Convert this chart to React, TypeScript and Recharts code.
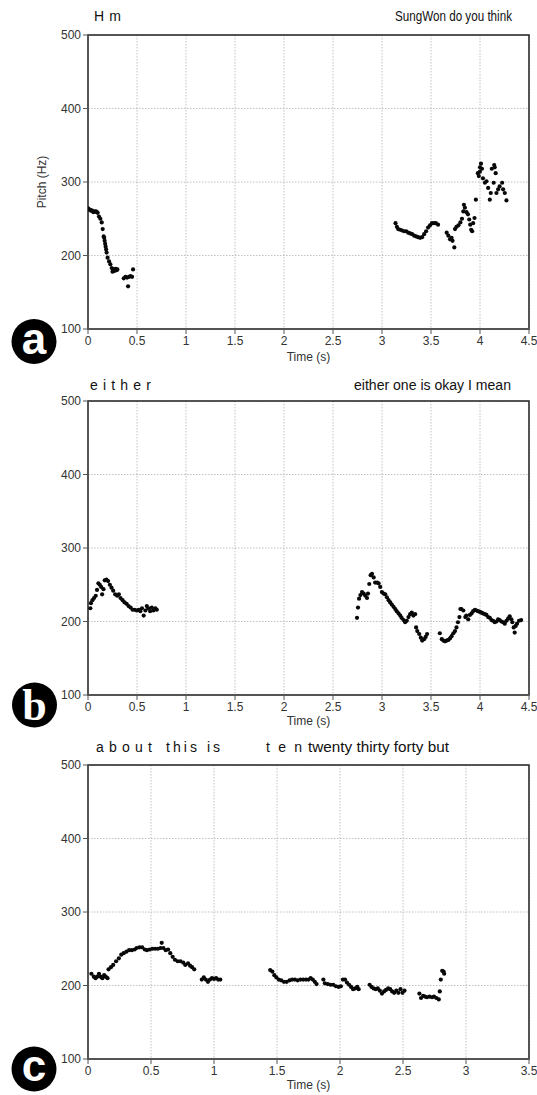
import React from 'react';
import { ScatterChart, Scatter, XAxis, YAxis, CartesianGrid, ReferenceArea } from 'recharts';

const FONT = '"Liberation Sans", Arial, Helvetica, sans-serif';

const yTicks = [100, 200, 300, 400, 500];
const xTicksAB = [0, 0.5, 1, 1.5, 2, 2.5, 3, 3.5, 4, 4.5];
const xTicksC = [0, 0.5, 1, 1.5, 2, 2.5, 3, 3.5];

const panelLetters = ['a', 'b', 'c'];
const yLabel = 'Pitch (Hz)';
const xLabel = 'Time (s)';
const wordsA = ['H m', 'SungWon do you think'];
const wordsB = ['e i t h e r', 'either one is okay I mean'];
const wordsC = ['a b o u t', 't h i s', 'i s', 't e n', 'twenty thirty forty but'];

// Panel a
const aTime = [
  0.0, 0.007, 0.024, 0.03, 0.044, 0.055, 0.065, 0.082, 0.09, 0.099, 0.112, 0.126, 0.14, 0.15, 0.16, 0.165, 0.17, 0.175, 0.18, 0.185, 0.19, 0.2, 0.215, 0.228, 0.242, 0.25, 0.256, 0.265, 0.27, 0.283, 0.293, 0.3,
  0.365, 0.382, 0.399, 0.409, 0.419, 0.433, 0.45, 0.46,
  3.138, 3.152, 3.165, 3.186, 3.206, 3.226, 3.247, 3.267, 3.287, 3.308, 3.328, 3.348, 3.369, 3.389, 3.409, 3.43, 3.45, 3.47, 3.49, 3.51, 3.531, 3.55, 3.572,
  3.66, 3.677, 3.694, 3.71, 3.72, 3.738,
  3.745, 3.76, 3.78, 3.8, 3.816, 3.83, 3.836, 3.846, 3.863, 3.877, 3.89, 3.9, 3.91, 3.92, 3.93, 3.944, 3.958,
  3.978, 3.988, 3.999, 4.0, 4.01, 4.02, 4.03, 4.05, 4.066, 4.083, 4.1, 4.11, 4.12, 4.14, 4.145, 4.15, 4.16, 4.168, 4.185, 4.2, 4.226, 4.236, 4.253, 4.27,
];
const aPitch = [
  264, 263, 262, 261, 261, 259, 260, 260, 259, 258, 253, 250, 245, 236, 226, 224, 220, 216, 212, 208, 204, 197, 192, 188, 183, 178, 181, 181, 179, 182, 180, 181,
  169, 171, 170, 158, 171, 172, 171, 181,
  244, 239, 236, 235, 234, 233, 233, 231, 230, 229, 227, 226, 225, 224, 225, 229, 233, 238, 241, 244, 244, 244, 242,
  231, 227, 222, 224, 220, 211,
  236, 239, 241, 245, 250, 260, 269, 265, 259, 256, 249, 242, 235, 233, 244, 251, 276,
  312, 308, 314, 320, 325, 318, 305, 299, 301, 292, 276, 285, 318, 299, 323, 320, 312, 285, 290, 294, 299, 290, 285, 275,
];

// Panel b
const bTime = [
  0.024, 0.03, 0.045, 0.062, 0.079, 0.092, 0.106, 0.12, 0.134, 0.144, 0.158, 0.171, 0.188, 0.205, 0.223, 0.24, 0.257, 0.277, 0.298, 0.315, 0.332, 0.353, 0.373, 0.394, 0.414, 0.435, 0.455, 0.476, 0.497, 0.517, 0.534, 0.551, 0.568, 0.586, 0.6, 0.616, 0.634, 0.651, 0.668, 0.688, 0.702,
  2.745, 2.755, 2.766, 2.78, 2.796, 2.813, 2.83, 2.847, 2.857, 2.87, 2.884, 2.898, 2.915, 2.93, 2.95, 2.965, 2.982, 2.999, 3.016, 3.033, 3.05, 3.067, 3.084, 3.1, 3.118, 3.135, 3.15, 3.169, 3.186, 3.2, 3.22, 3.236, 3.253, 3.27, 3.287, 3.304, 3.32, 3.338, 3.348, 3.36, 3.38, 3.396, 3.41, 3.43, 3.446, 3.46,
  3.59, 3.61, 3.626, 3.643, 3.66, 3.677, 3.694, 3.71, 3.728, 3.745, 3.76, 3.775, 3.79, 3.8, 3.81, 3.83, 3.85, 3.86, 3.88, 3.897, 3.914, 3.93, 3.948, 3.965, 3.98, 3.999, 4.016, 4.03, 4.05, 4.066, 4.083, 4.1, 4.117, 4.134, 4.15, 4.168, 4.185, 4.2, 4.219, 4.236, 4.253, 4.27, 4.287, 4.303, 4.32, 4.33, 4.344, 4.354, 4.364, 4.378, 4.398, 4.42,
];
const bPitch = [
  218, 225, 229, 232, 235, 243, 252, 250, 247, 237, 244, 256, 257, 255, 250, 246, 242, 237, 235, 237, 232, 229, 226, 224, 221, 219, 216, 216, 215, 216, 214, 218, 208, 215, 221, 218, 214, 219, 215, 218, 216,
  205, 219, 231, 236, 240, 238, 235, 232, 238, 251, 263, 265, 260, 253, 253, 252, 247, 240, 238, 237, 233, 229, 226, 223, 220, 217, 214, 211, 208, 205, 202, 199, 201, 206, 210, 212, 208, 210, 192, 187, 183, 178, 174, 176, 179, 183,
  184, 176, 174, 173, 174, 175, 177, 180, 184, 187, 192, 199, 206, 217, 217, 215, 206, 208, 203, 209, 211, 214, 216, 215, 214, 213, 212, 211, 210, 209, 206, 205, 202, 201, 199, 200, 203, 202, 200, 199, 197, 201, 204, 207, 203, 199, 192, 185, 194, 197, 201, 202,
];

// Panel c
const cTime = [
  0.027, 0.046, 0.06, 0.073, 0.087, 0.1, 0.114, 0.128, 0.141, 0.155,
  0.163, 0.182, 0.2, 0.223, 0.245, 0.264, 0.283, 0.305, 0.326, 0.348, 0.37, 0.386, 0.408, 0.43, 0.451, 0.468, 0.49, 0.511, 0.533, 0.555, 0.576, 0.585, 0.598, 0.617, 0.636, 0.653, 0.672, 0.69, 0.712, 0.734, 0.756, 0.772, 0.794, 0.81, 0.826, 0.843,
  0.903, 0.919, 0.935, 0.952, 0.968, 0.984, 1.0, 1.017, 1.033, 1.05,
  1.446, 1.463, 1.479, 1.495, 1.514, 1.533, 1.555, 1.577, 1.6, 1.62, 1.642, 1.664, 1.686, 1.708, 1.73, 1.75, 1.767, 1.784, 1.8, 1.814,
  1.868, 1.88, 1.903, 1.925, 1.947, 1.968, 1.99, 2.007, 2.023, 2.04, 2.055, 2.072, 2.088, 2.104, 2.12, 2.137, 2.148,
  2.235, 2.25, 2.267, 2.284, 2.3, 2.316, 2.333, 2.35, 2.365, 2.382, 2.398, 2.414, 2.43, 2.447, 2.463, 2.48, 2.496, 2.512,
  2.63, 2.643, 2.66, 2.675, 2.69, 2.71, 2.73, 2.746, 2.765, 2.784, 2.792, 2.8, 2.811, 2.822, 2.827,
];
const cPitch = [
  216, 212, 210, 212, 216, 212, 210, 214, 212, 210,
  222, 225, 228, 233, 237, 242, 244, 246, 248, 248, 249, 251, 252, 252, 249, 248, 249, 250, 250, 250, 251, 258, 251, 248, 249, 244, 239, 235, 233, 233, 231, 228, 230, 227, 225, 222,
  208, 211, 208, 205, 208, 210, 209, 210, 208, 208,
  221, 219, 214, 211, 208, 207, 205, 205, 207, 208, 208, 207, 208, 208, 208, 208, 210, 208, 205, 202,
  208, 203, 202, 201, 201, 199, 198, 199, 208, 208, 204, 201, 198, 195, 196, 198, 195,
  201, 198, 196, 195, 196, 193, 189, 192, 194, 196, 195, 192, 190, 193, 190, 195, 190, 193,
  189, 183, 186, 185, 184, 185, 184, 185, 183, 181, 192, 208, 220, 219, 216,
];

const zip = (t: number[], f: number[]) => t.map((v, i) => ({ t: v, f: f[i] }));

const Dot = (props: any) => {
  if (props.cx == null || props.cy == null) return null;
  return <circle cx={props.cx} cy={props.cy} r={2.1} fill="#080808" />;
};

function Panel({ top, data, xMax, xTicks }: { top: number; data: any[]; xMax: number; xTicks: number[] }) {
  const tickStyle = { fontSize: 12, fill: '#333', fontFamily: FONT };
  return (
    <div style={{ position: 'absolute', left: 0, top, width: 537, height: 364 }}>
      <ScatterChart width={537} height={364} margin={{ top: 35, right: 8, bottom: 0, left: 0 }}>
        <CartesianGrid stroke="#b0b0b0" strokeDasharray="1.5 1.5" strokeWidth={0.8} />
        <XAxis
          type="number"
          dataKey="t"
          domain={[0, xMax]}
          ticks={xTicks}
          interval={0}
          height={35}
          tickSize={5}
          tickMargin={2}
          tick={tickStyle}
          axisLine={{ stroke: '#555', strokeWidth: 1.5 }}
          tickLine={{ stroke: '#555' }}
          allowDataOverflow
        />
        <YAxis
          type="number"
          dataKey="f"
          domain={[100, 500]}
          ticks={yTicks}
          interval={0}
          width={88}
          tickSize={5}
          tickMargin={2}
          tick={tickStyle}
          axisLine={{ stroke: '#555', strokeWidth: 1.5 }}
          tickLine={{ stroke: '#555' }}
          allowDataOverflow
        />
        <ReferenceArea x1={0} x2={xMax} y1={100} y2={500} fill="none" stroke="#222" strokeWidth={1.5} ifOverflow="visible" />
        <Scatter data={data} isAnimationActive={false} shape={Dot} />
      </ScatterChart>
    </div>
  );
}

function Badge({ cx, cy, letter, serif }: { cx: number; cy: number; letter: string; serif?: boolean }) {
  return (
    <g>
      <circle cx={cx} cy={cy} r={22.5} fill="#000" />
      <text
        x={cx}
        y={cy + (letter === 'b' ? 15 : 12)}
        textAnchor="middle"
        fill="#fff"
        fontSize={44}
        fontWeight="bold"
        fontFamily={serif ? '"Liberation Serif", "DejaVu Serif", serif' : FONT}
      >
        {letter}
      </text>
    </g>
  );
}

export default function App() {
  const titleStyle = { fontSize: 14, fill: '#111', fontFamily: FONT };
  return (
    <div style={{ position: 'absolute', left: 0, top: 0, width: 537, height: 1095, background: '#fff' }}>
      <Panel top={0} data={zip(aTime, aPitch)} xMax={4.5} xTicks={xTicksAB} />
      <Panel top={366} data={zip(bTime, bPitch)} xMax={4.5} xTicks={xTicksAB} />
      <Panel top={730} data={zip(cTime, cPitch)} xMax={3.5} xTicks={xTicksC} />
      <svg width={537} height={1095} style={{ position: 'absolute', left: 0, top: 0, pointerEvents: 'none' }}>
        <text x={94} y={21} textLength={27} lengthAdjust="spacing" {...titleStyle}>{wordsA[0]}</text>
        <text x={395} y={21} textLength={117} lengthAdjust="spacingAndGlyphs" {...titleStyle}>{wordsA[1]}</text>
        <text x={90} y={390} textLength={61} lengthAdjust="spacing" {...titleStyle}>{wordsB[0]}</text>
        <text x={354} y={390} textLength={157} lengthAdjust="spacingAndGlyphs" {...titleStyle}>{wordsB[1]}</text>
        <text x={96} y={752} textLength={56} lengthAdjust="spacing" {...titleStyle}>{wordsC[0]}</text>
        <text x={166} y={752} textLength={31} lengthAdjust="spacing" {...titleStyle}>{wordsC[1]}</text>
        <text x={207} y={752} textLength={13} lengthAdjust="spacing" {...titleStyle}>{wordsC[2]}</text>
        <text x={266} y={752} textLength={36} lengthAdjust="spacing" {...titleStyle}>{wordsC[3]}</text>
        <text x={308} y={752} textLength={141} lengthAdjust="spacingAndGlyphs" {...titleStyle}>{wordsC[4]}</text>

        <text transform="translate(46,182) rotate(-90)" textAnchor="middle" fontSize={12} fill="#333" fontFamily={FONT}>{yLabel}</text>

        <text x={308.5} y={361} textAnchor="middle" fontSize={12} fill="#333" fontFamily={FONT}>{xLabel}</text>
        <text x={308.5} y={725} textAnchor="middle" fontSize={12} fill="#333" fontFamily={FONT}>{xLabel}</text>
        <text x={308.5} y={1089} textAnchor="middle" fontSize={12} fill="#333" fontFamily={FONT}>{xLabel}</text>

        <Badge cx={34} cy={341.5} letter={panelLetters[0]} />
        <Badge cx={34.5} cy={705} letter={panelLetters[1]} serif />
        <Badge cx={34} cy={1069} letter={panelLetters[2]} />
      </svg>
    </div>
  );
}
